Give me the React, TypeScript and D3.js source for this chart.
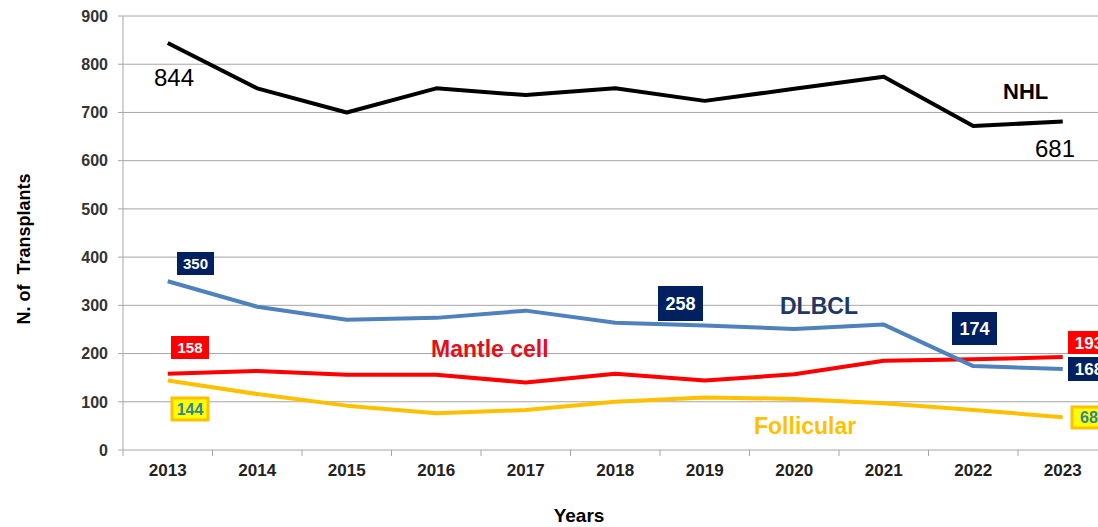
import React from "react";
import * as d3 from "d3";

const years = ["2013","2014","2015","2016","2017","2018","2019","2020","2021","2022","2023"];
const nhl = [844, 750, 700, 750, 736, 750, 724, 749, 774, 672, 681];
const dlbcl = [350, 297, 270, 274, 289, 264, 258, 251, 260, 174, 168];
const mantle = [158, 164, 156, 156, 140, 158, 144, 157, 185, 188, 193];
const follicular = [144, 116, 92, 76, 83, 100, 109, 106, 97, 83, 68];
const yTicks = [0, 100, 200, 300, 400, 500, 600, 700, 800, 900];

const W = 1098, H = 527;
const FONT = "'Liberation Sans', Arial, sans-serif";

export default function App() {
  const x = d3.scaleBand<string>().domain(years).range([123, 123 + 89.5 * 11]).padding(0);
  const cx = (yr: string) => (x(yr) as number) + x.bandwidth() / 2;
  const y = d3.scaleLinear().domain([0, 900]).range([450, 16]);
  const line = d3.line<number>().x((_, i) => cx(years[i])).y(v => y(v));

  const series = [
    { data: follicular, color: "#FFC000" },
    { data: mantle, color: "#FF0000" },
    { data: dlbcl, color: "#4F81BD" },
    { data: nhl, color: "#000000" },
  ];

  const box = (key: string, x0: number, y0: number, w: number, h: number, fill: string, text: string, tcolor: string, fs: number, stroke?: string) => (
    <g key={key}>
      <rect x={x0} y={y0} width={w} height={h} fill={fill} stroke={stroke || "none"} strokeWidth={stroke ? 3 : 0} />
      <text x={x0 + w / 2} y={y0 + h / 2} dy="0.36em" textAnchor="middle" fill={tcolor} fontSize={fs} fontWeight="bold" fontFamily={FONT}>{text}</text>
    </g>
  );

  return (
    <svg width={W} height={H} style={{ position: "absolute", left: 0, top: 0, background: "#fff" }}>
      {yTicks.map(t => (
        <g key={t}>
          <line x1={118} x2={W} y1={y(t)} y2={y(t)} stroke="#a6a6a6" strokeWidth={1} />
          <text x={108} y={y(t)} dy="0.36em" textAnchor="end" fontSize={16} fontWeight="bold" fill="#333" fontFamily={FONT}>{t}</text>
        </g>
      ))}
      <line x1={123} x2={123} y1={y(900)} y2={y(0)} stroke="#a6a6a6" strokeWidth={1} />
      {years.map(yr => (
        <g key={yr}>
          <line x1={(x(yr) as number) + x.bandwidth()} x2={(x(yr) as number) + x.bandwidth()} y1={y(0)} y2={y(0) + 6} stroke="#a6a6a6" />
          <text x={cx(yr)} y={476} textAnchor="middle" fontSize={17} fontWeight="bold" fill="#222" fontFamily={FONT}>{yr}</text>
        </g>
      ))}
      <line x1={123} x2={123} y1={y(0)} y2={y(0) + 6} stroke="#a6a6a6" />

      {series.map((s, i) => (
        <path key={i} d={line(s.data) as string} fill="none" stroke={s.color} strokeWidth={4} strokeLinejoin="round" strokeLinecap="butt" />
      ))}

      <text x={1003} y={99} fontSize={22} fontWeight="bold" fill="#000" fontFamily={FONT}>NHL</text>
      <text x={780} y={314} fontSize={23} fontWeight="bold" fill="#1F3864" fontFamily={FONT}>DLBCL</text>
      <text x={431} y={357} fontSize={23} fontWeight="bold" fill="#E3101B" fontFamily={FONT}>Mantle cell</text>
      <text x={754} y={434} fontSize={23} fontWeight="bold" fill="#FFC000" fontFamily={FONT}>Follicular</text>

      <text x={154} y={86} fontSize={24} fill="#000" fontFamily={FONT}>{nhl[0]}</text>
      <text x={1035} y={157} fontSize={24} fill="#000" fontFamily={FONT}>{nhl[10]}</text>

      {box("b350", 177, 252, 37, 23, "#002060", String(dlbcl[0]), "#fff", 15)}
      {box("b258", 658, 286, 45, 35, "#002060", String(dlbcl[6]), "#fff", 18)}
      {box("b174", 952, 312, 45, 33, "#002060", String(dlbcl[9]), "#fff", 18)}
      {box("b168", 1068, 357, 42, 24, "#002060", String(dlbcl[10]), "#fff", 17)}
      {box("b158", 171, 336, 38, 23, "#FF0000", String(mantle[0]), "#fff", 15)}
      {box("b193", 1068, 331, 42, 23, "#FF0000", String(mantle[10]), "#fff", 17)}
      {box("b144", 172, 398, 36, 22, "#FFFF00", String(follicular[0]), "#31859C", 16, "#FFC000")}
      {box("b68", 1072, 407, 34, 21, "#FFFF00", String(follicular[10]), "#31859C", 16, "#FFC000")}

      <text transform="translate(30,249) rotate(-90)" textAnchor="middle" fontSize={18} fontWeight="bold" fill="#000" fontFamily={FONT} style={{ whiteSpace: "pre" }}>N. of  Transplants</text>
      <text x={579} y={522} textAnchor="middle" fontSize={19} fontWeight="bold" fill="#000" fontFamily={FONT}>Years</text>
    </svg>
  );
}
